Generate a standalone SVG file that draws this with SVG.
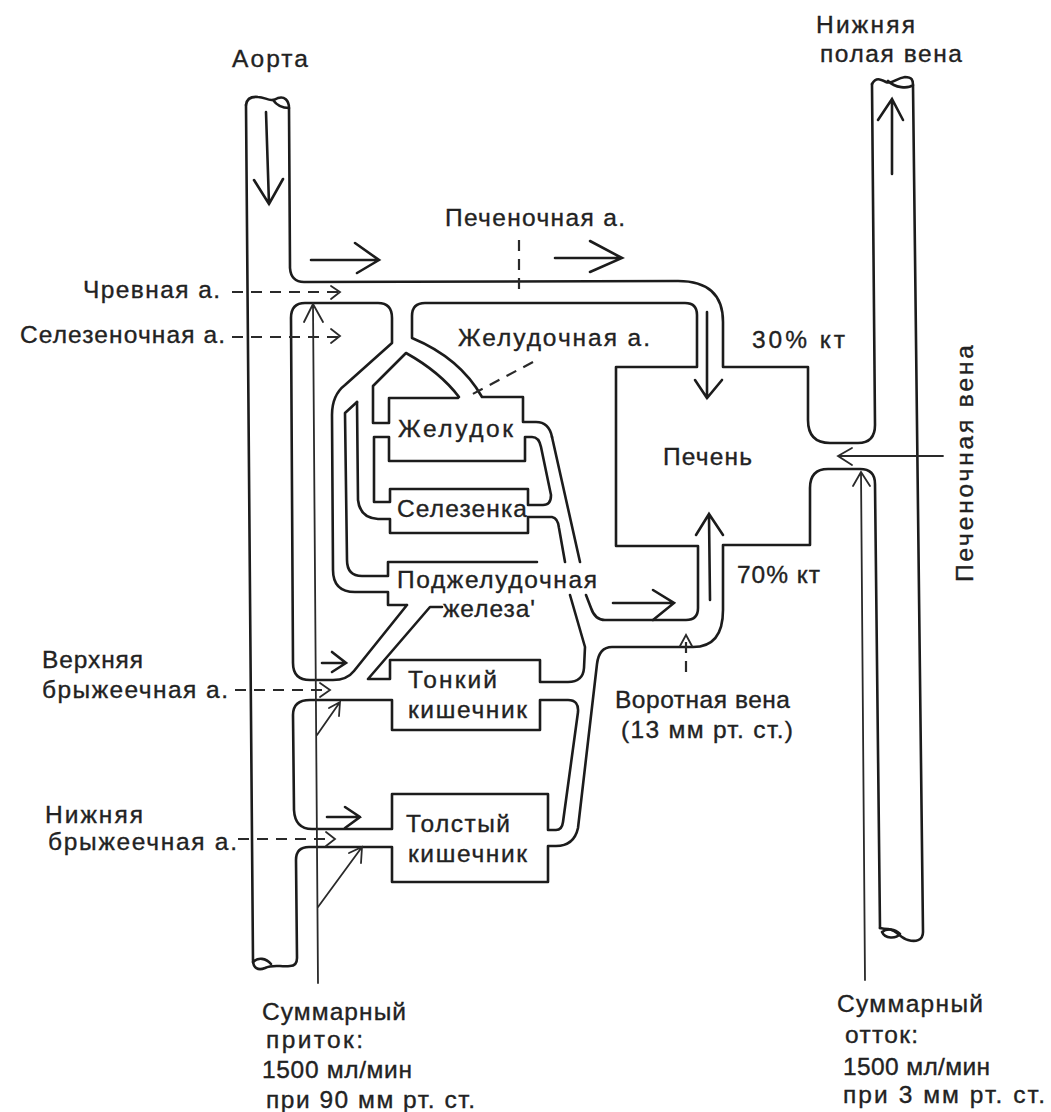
<svg xmlns="http://www.w3.org/2000/svg" width="1051" height="1112" viewBox="0 0 1051 1112">
<style>
.w{fill:none;stroke:#1c1c1c;stroke-width:2.6;stroke-linejoin:round;stroke-linecap:round}
.a{fill:none;stroke:#1c1c1c;stroke-width:2.6;stroke-linecap:round;stroke-linejoin:miter}
.t{fill:none;stroke:#2a2a2a;stroke-width:1.8;stroke-linecap:round}
.d{fill:none;stroke:#2a2a2a;stroke-width:2.2;stroke-dasharray:11 8}
text{font-family:"Liberation Sans",Arial,sans-serif;font-size:24.5px;fill:#222;stroke:#222;stroke-width:.35}
</style>
<rect width="1051" height="1112" fill="#fff"/>
<g id="connectors">
<path class="w" d="M289 108L290 268Q291 282 304 282L678 281Q723 281 723 322V367H808V420Q808 443 830 443H858Q875 443 875 425L872 84"/>
<path class="w" d="M246 105Q247 96 258 97C266 97 270 103 278 98C284 96 289 100 289 108C284 108 278 107 273 100"/>
<path class="w" d="M246 105L253 960C253 968 258 971 265 968C273 964 280 967 290 966C295 966 297 963 297 958L296 860Q296 847 309 847H392V882H548V846H556Q574 846 578 828L597 664Q599 647 612 647H693Q723 647 723 610V545H810V488Q810 469 828 469H860Q875 469 875 484L880 928"/>
<path class="w" d="M253 962C258 957 266 958 271 964"/>
<path class="w" d="M872 84C876 77 880 79 886 82C892 85 896 78 905 77C912 77 913 80 913 85C908 89 895 88 888 81"/>
<path class="w" d="M913 85L923 932C923 941 915 942 908 940C900 938 897 930 888 929C884 929 880 928 880 928"/>
<path class="w" d="M882 932C887 928 895 929 900 934C896 939 885 939 882 932"/>
<path class="w" d="M407 605H388V592H355Q333 592 333 570L332 415Q332 395 345 385L392 343V318Q392 303 378 303H305Q291 303 291 318L293 663Q293 680 310 680H333Q347 680 354 671L407 605"/>
<path class="w" d="M442 607H430L368 679H390V660H540V682H568Q583 682 584 668L585 647L570 595"/>
<path class="w" d="M357 402L345 413L347 560Q347 576 362 576H388V562H537"/>
<path class="w" d="M357 402L358 500Q360 518 378 519H390V533H528V517H552Q558 518 559 528L565 562"/>
<path class="w" d="M552 437Q549 422 536 422H523V397H482Q460 358 412 338V316Q412 303 425 303H685Q697 303 697 315V367H616V546H698V608Q698 620 686 620H605Q595 620 591 608L586 595"/>
<path class="w" d="M459 397Q440 372 406 353L373 386V423H389V398H458"/>
<path class="w" d="M552 437L580 562"/>
<path class="w" d="M525 437H532Q539 437 541 447L551 495Q551 505 543 505H528V489H390V502H374V437H389V461H525V437"/>
<path class="w" d="M392 700H310Q293 700 293 715L294 810Q295 829 312 829H392V794H548V830H556Q562 830 563 822L578 712Q579 700 568 700H540V730H392V700"/>
<path class="t" d="M318 983L313 305M304 322L313 304L323 322"/>
<path class="t" d="M317 735L340 702M329 708L340 702L339 716"/>
<path class="t" d="M318 907L362 847M349 853L362 847L361 863"/>
<path class="t" d="M865 980L861 472M853 486L861 472L870 486"/>
<path class="t" d="M943 456H840M852 448L838 456L852 465"/>
<path class="d" d="M232 292H338"/><path class="t" d="M331 286L340 292L331 299"/>
<path class="d" d="M232 337H338"/><path class="t" d="M331 329L340 336L331 343"/>
<path class="d" d="M235 690H328"/><path class="t" d="M320 683L330 690L320 697"/>
<path class="d" d="M238 839H333"/><path class="t" d="M326 832L335 839L326 846"/>
<path class="d" d="M519 240V295"/>
<path class="d" d="M533 362L467 397"/>
<path class="d" d="M686 672V640"/><path class="t" d="M680 646L686 635L692 646"/>
<path class="a" d="M266 112L269 204M254 180L269 204L283 179"/>
<path class="a" d="M892 174V100M878 120L892 99L903 120"/>
<path class="a" d="M311 260H379M355 243L379 260L357 273"/>
<path class="a" d="M555 258H621M590 241L622 258L590 272"/>
<path class="a" d="M707 312V398M695 380L707 398L722 380"/>
<path class="a" d="M710 600L709 516M696 535L709 514L723 535"/>
<path class="a" d="M613 603H673M653 590L674 603L653 620"/>
<path class="a" d="M322 663H345M332 652L346 663L332 672"/>
<path class="a" d="M327 817H360M345 807L360 817L345 828"/>
</g>
<g id="labels">
<text x="232" y="67" textLength="76">Аорта</text>
<text x="816" y="33" textLength="99">Нижняя</text>
<text x="820" y="62" textLength="142">полая вена</text>
<text x="445" y="226" textLength="180">Печеночная а.</text>
<text x="83" y="298" textLength="137">Чревная а.</text>
<text x="20" y="343" textLength="205">Селезеночная а.</text>
<text x="458" y="346" textLength="192">Желудочная а.</text>
<text x="752" y="348" textLength="93">30% кт</text>
<text x="737" y="583" textLength="83">70% кт</text>
<text x="42" y="668" textLength="101">Верхняя</text>
<text x="42" y="698" textLength="186">брыжеечная а.</text>
<text x="45" y="823" textLength="98">Нижняя</text>
<text x="48" y="850" textLength="189">брыжеечная а.</text>
<text x="615" y="708" textLength="175">Воротная вена</text>
<text x="621" y="738" textLength="172">(13 мм рт. ст.)</text>
<text x="262" y="1020" textLength="144">Суммарный</text>
<text x="266" y="1048" textLength="97">приток:</text>
<text x="262" y="1078" textLength="150">1500 мл/мин</text>
<text x="266" y="1108" textLength="209">при 90 мм рт. ст.</text>
<text x="837" y="1012" textLength="146">Суммарный</text>
<text x="845" y="1043" textLength="73">отток:</text>
<text x="843" y="1075" textLength="147">1500 мл/мин</text>
<text x="843" y="1103" textLength="202">при 3 мм рт. ст.</text>
<text transform="translate(973 582) rotate(-90)" textLength="237">Печеночная вена</text>
</g>
<g id="liver"><text x="663" y="465" textLength="89">Печень</text></g>
<g id="stomach"><text x="398" y="437" textLength="115">Желудок</text></g>
<g id="spleen"><text x="397" y="517" textLength="130">Селезенка</text></g>
<g id="pancreas"><text x="397" y="588" textLength="200">Поджелудочная</text><text x="443" y="617" textLength="92">железа'</text></g>
<g id="small-intestine"><text x="408" y="688" textLength="89">Тонкий</text><text x="408" y="718" textLength="119">кишечник</text></g>
<g id="large-intestine"><text x="406" y="832" textLength="104">Толстый</text><text x="408" y="862" textLength="119">кишечник</text></g>
</svg>
